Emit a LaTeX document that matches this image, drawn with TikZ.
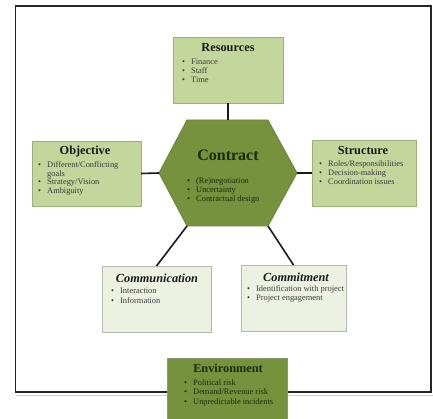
\documentclass[tikz,border=0pt]{standalone}
\usepackage{fontspec}
\setmainfont{Liberation Serif}
\definecolor{lightgreen}{HTML}{C3D69B}
\definecolor{lightedge}{HTML}{9CAF7B}
\definecolor{darkgreen}{HTML}{76923C}
\definecolor{darkedge}{HTML}{6A8436}
\definecolor{envedge}{HTML}{8A9A6A}
\definecolor{palegreen}{HTML}{EDF1E1}
\definecolor{paleedge}{HTML}{B4B8AC}
\definecolor{bodytext}{HTML}{3A3A3A}
\definecolor{darktext}{HTML}{1C2A0C}
\newcommand\itm[1]{\makebox[9pt][l]{\textbullet}#1}
\begin{document}
\begin{tikzpicture}[x=1pt,y=-1pt,
  boxbase/.style={inner sep=0pt, outer sep=0pt, line width=0.8pt},
  lightbox/.style={boxbase, draw=lightedge, fill=lightgreen},
  palebox/.style={boxbase, draw=paleedge, fill=palegreen},
  envbox/.style={boxbase, draw=envedge, fill=darkgreen},
  hexstyle/.style={fill=darkgreen, draw=darkedge, line width=0.8pt},
  link/.style={line width=1.6pt, black!90},
  title/.style={inner sep=0pt, anchor=base, font=\fontsize{12.3}{14}\selectfont\bfseries, text=black!90},
  ititle/.style={title, font=\fontsize{12.3}{14}\selectfont\bfseries\itshape},
  bigtitle/.style={title, font=\fontsize{16}{18}\selectfont\bfseries, text=darktext},
  item/.style={inner sep=0pt, anchor=base west, font=\fontsize{8.4}{9}\selectfont, text=bodytext},
  ditem/.style={item, text=darktext}
]
\useasboundingbox (0,0) rectangle (433,419);
\clip (0,0) rectangle (433,419);
% frame
\draw[line width=1.4pt, black!85] (15.5,6) rectangle (431,392);
\draw[line width=1pt, black!20] (16,395) -- (433,395);

% boxes
\node[lightbox, minimum width=110pt, minimum height=66pt] (res) at (228,70) {};
\node[lightbox, minimum width=109pt, minimum height=65pt] (obj) at (86.5,173.5) {};
\node[lightbox, minimum width=104pt, minimum height=66pt] (str) at (364,173) {};
\node[palebox, minimum width=109pt, minimum height=66pt] (com) at (156.5,299) {};
\node[palebox, minimum width=105pt, minimum height=66pt] (cmt) at (293.5,298) {};
\node[envbox, minimum width=120pt, minimum height=67pt] (env) at (227,391.5) {};

% hexagon
\coordinate (hTL) at (187,120);
\coordinate (hTR) at (268,120);
\coordinate (hR) at (297,173);
\coordinate (hBR) at (268,226);
\coordinate (hBL) at (187,226);
\coordinate (hL) at (159,173);
\coordinate (hT) at (228,120);
\draw[hexstyle] (hTL) -- (hTR) -- (hR) -- (hBR) -- (hBL) -- (hL) -- cycle;

% connectors
\draw[link] (res.south) -- (hT);
\draw[link] (obj.east) -- (hL);
\draw[link] (hR) -- (str.west);
\draw[link] (hBL) -- (com.north);
\draw[link] (hBR) -- (cmt.north);

% Resources
\node[title] (resT) at (228,52) {Resources};
\node[item] (res1) at (182,65) {\itm{Finance}};
\node[item] (res2) at (182,74) {\itm{Staff}};
\node[item] (res3) at (182,83) {\itm{Time}};

% Objective
\node[title] (objT) at (85,155) {Objective};
\node[item] (obj1) at (38,168) {\itm{Different/Conflicting}};
\node[item] (obj1b) at (47,176.5) {goals};
\node[item] (obj2) at (38,185) {\itm{Strategy/Vision}};
\node[item] (obj3) at (38,193.5) {\itm{Ambiguity}};

% Structure
\node[title] (strT) at (363,155) {Structure};
\node[item] (str1) at (319,167) {\itm{Roles/Responsibilities}};
\node[item] (str2) at (319,176) {\itm{Decision-making}};
\node[item] (str3) at (319,184.5) {\itm{Coordination issues}};

% Contract
\node[bigtitle] (conT) at (228,161) {Contract};
\node[ditem] (con1) at (187,184) {\itm{(Re)negotiation}};
\node[ditem] (con2) at (187,193) {\itm{Uncertainty}};
\node[ditem] (con3) at (187,202) {\itm{Contractual design}};

% Communication
\node[ititle] (comT) at (157,282) {Communication};
\node[item] (com1) at (111,294) {\itm{Interaction}};
\node[item] (com2) at (111,303) {\itm{Information}};

% Commitment
\node[ititle] (cmtT) at (296,281) {Commitment};
\node[item] (cmt1) at (247,291) {\itm{Identification with project}};
\node[item] (cmt2) at (247,300) {\itm{Project engagement}};

% Environment
\node[title, text=darktext] (envT) at (228,372) {Environment};
\node[ditem] (env1) at (184,385) {\itm{Political risk}};
\node[ditem] (env2) at (184,394.5) {\itm{Demand/Revenue risk}};
\node[ditem] (env3) at (184,404) {\itm{Unpredictable incidents}};
\end{tikzpicture}
\end{document}
